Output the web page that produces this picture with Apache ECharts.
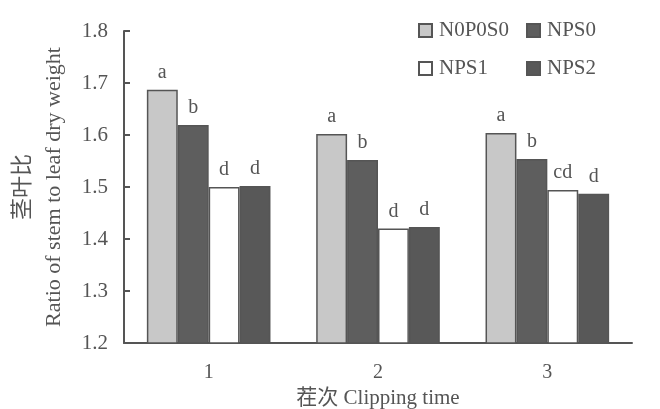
<!DOCTYPE html>
<html>
<head>
<meta charset="utf-8">
<script src="https://cdn.jsdelivr.net/npm/echarts@6/dist/echarts.min.js"></script>
<style>
  html, body { margin: 0; padding: 0; background: #fff; }
  #chart { width: 660px; height: 409px; }
</style>
</head>
<body>
<div id="chart"></div>
<script>
// 茬次 categories
const categories = ['1', '2', '3']
const seriesNames = ['N0P0S0', 'NPS0', 'NPS1', 'NPS2']
// 茎叶比 values
const n0p0s0 = [1.687, 1.602, 1.604]
const nps0 = [1.619, 1.552, 1.554]
const nps1 = [1.500, 1.420, 1.494]
const nps2 = [1.502, 1.423, 1.487]
// significance letters
const lettersN0P0S0 = ['a', 'a', 'a']
const lettersNPS0 = ['b', 'b', 'b']
const lettersNPS1 = ['d', 'd', 'cd']
const lettersNPS2 = ['d', 'd', 'd']
const yTicks = [1.2, 1.3, 1.4, 1.5, 1.6, 1.7, 1.8]

const textColor = '#555'
const serif = '"Liberation Serif", "Times New Roman", "Noto Sans CJK SC", serif'
const fills = ['#c8c8c8', '#5e5e5e', '#ffffff', '#585858']

function makeSeries(name, data, letters, fill) {
  return {
    name: name,
    type: 'bar',
    data: data,
    barGap: '0%',
    barCategoryGap: '27%',
    itemStyle: { color: fill, borderColor: '#555', borderWidth: 1.5 },
    label: {
      show: true,
      position: 'top',
      distance: 7,
      color: textColor,
      fontFamily: serif,
      fontSize: 20,
      formatter: (p) => letters[p.dataIndex]
    }
  }
}

function legendAt(name, left, top) {
  return {
    data: [name],
    left: left,
    top: top,
    icon: 'rect',
    itemWidth: 13,
    itemHeight: 13,
    itemGap: 0,
    textStyle: { color: textColor, fontFamily: serif, fontSize: 21, padding: [0, 0, 0, 2] }
  }
}

const chart = echarts.init(document.getElementById('chart'))
chart.setOption({
  backgroundColor: '#fff',
  animation: false,
  legend: [
    legendAt('N0P0S0', 413, 15),
    legendAt('NPS0', 521, 15),
    legendAt('NPS1', 413, 53),
    legendAt('NPS2', 521, 53)
  ],
  grid: { left: 124, right: 28, top: 31, bottom: 66, outerBoundsMode: 'none' },
  xAxis: {
    type: 'category',
    data: categories,
    name: '茬次 Clipping time',
    nameLocation: 'middle',
    nameGap: 40,
    nameTextStyle: { color: textColor, fontFamily: serif, fontSize: 21 },
    axisLine: { lineStyle: { color: '#555', width: 2 } },
    axisTick: { inside: true, length: 6, lineStyle: { color: '#555', width: 2 } },
    axisLabel: { color: textColor, fontFamily: serif, fontSize: 20, margin: 20 }
  },
  yAxis: {
    type: 'value',
    min: yTicks[0],
    max: yTicks[yTicks.length - 1],
    interval: 0.1,
    name: '茎叶比\nRatio of stem to leaf dry weight',
    nameLocation: 'middle',
    nameGap: 54,
    nameRotate: 90,
    nameTextStyle: { color: textColor, fontFamily: serif, fontSize: 22, lineHeight: 31 },
    axisLine: { show: true, lineStyle: { color: '#555', width: 2 } },
    axisTick: { show: true, inside: true, length: 6, lineStyle: { color: '#555', width: 2 } },
    splitLine: { show: false },
    axisLabel: {
      color: textColor,
      fontFamily: serif,
      fontSize: 21,
      margin: 16,
      formatter: (v) => v.toFixed(1)
    }
  },
  series: [
    makeSeries(seriesNames[0], n0p0s0, lettersN0P0S0, fills[0]),
    makeSeries(seriesNames[1], nps0, lettersNPS0, fills[1]),
    makeSeries(seriesNames[2], nps1, lettersNPS1, fills[2]),
    makeSeries(seriesNames[3], nps2, lettersNPS2, fills[3])
  ]
})
</script>
</body>
</html>
